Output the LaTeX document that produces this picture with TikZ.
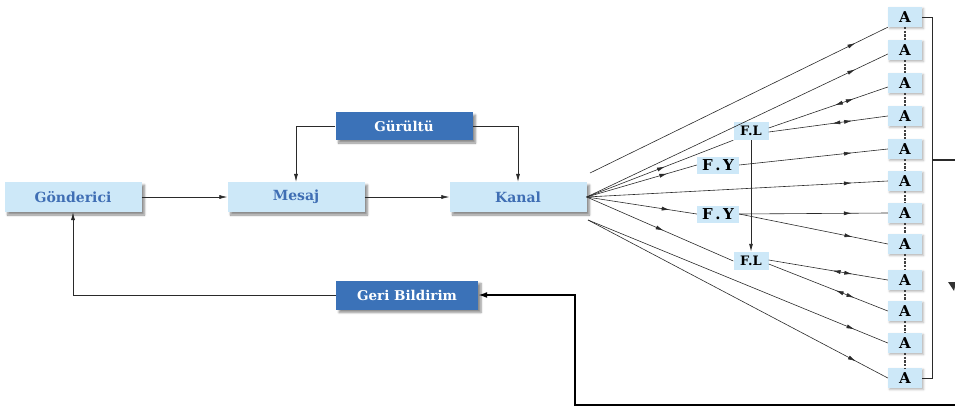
\documentclass[tikz,border=0pt]{standalone}
\usepackage{fontspec}
\setmainfont{DejaVu Serif}
\usetikzlibrary{arrows.meta,shadows.blur,decorations.markings,calc}

\definecolor{paleblue}{HTML}{CDE8F8}
\definecolor{inkblue}{HTML}{3F6EB4}
\definecolor{deepblue}{HTML}{3B72B8}
\definecolor{wiregray}{HTML}{2A2A2A}

\tikzset{
  tip/.tip={Latex[length=8pt,width=4pt]},
  bigtip/.tip={Latex[length=9pt,width=6pt]},
  softshadow/.style={blur shadow={shadow xshift=3pt,shadow yshift=-3pt,shadow blur steps=6,shadow opacity=45}},
  lightbox/.style={fill=paleblue,minimum width=137pt,minimum height=30pt,inner sep=0pt,
    text=inkblue,font=\bfseries\fontsize{14}{16}\selectfont,softshadow},
  darkbox/.style={fill=deepblue,inner sep=0pt,text=white,font=\bfseries\fontsize{13.5}{15}\selectfont,softshadow},
  abox/.style={fill=paleblue,minimum width=34pt,minimum height=20pt,inner sep=0pt,
    font=\bfseries\fontsize{15}{15}\selectfont,
    blur shadow={shadow xshift=1.5pt,shadow yshift=-1.5pt,shadow blur steps=4,shadow opacity=30}},
  flbox/.style={fill=paleblue,minimum width=35pt,minimum height=18pt,inner sep=0pt,
    font=\bfseries\fontsize{13}{13}\selectfont},
  fybox/.style={fill=paleblue,minimum width=42pt,minimum height=17pt,inner sep=0pt,
    font=\bfseries\fontsize{15}{15}\selectfont},
  wire/.style={draw=wiregray,line width=0.6pt},
  heavywire/.style={draw=black,line width=1.6pt},
  alink/.style={draw=black!75,line width=2pt,dash pattern=on 2.2pt off 1.4pt},
  toA/.style={wire,postaction={decorate,decoration={markings,
    mark=at position -36pt with {\arrow{tip}}}}},
  toF/.style={wire,postaction={decorate,decoration={markings,
    mark=at position 84pt with {\arrow{tip}}}}},
  twoway/.style={wire,postaction={decorate,decoration={markings,
    mark=at position -36pt with {\arrow{tip}},
    mark=at position -56pt with {\arrowreversed{tip}}}}},
}

\begin{document}
\begin{tikzpicture}[x=1pt,y=-1pt]
\useasboundingbox (0,0) rectangle (955,407);

% main chain
\node[lightbox] (gon) at (73,197) {Gönderici};
\node[lightbox] (mes) at (296,197) {Mesaj};
\node[lightbox] (kan) at (518,197) {Kanal};
\node[darkbox,minimum width=137pt,minimum height=28pt] (gur) at (404,126) {Gürültü};
\node[darkbox,minimum width=142pt,minimum height=29pt] (geri) at (407,295) {Geri Bildirim};

\draw[wire,-{tip}] (gon) -- (mes);
\draw[wire,-{tip}] (mes) -- (kan);
\draw[wire,-{tip}] (gur.west) -| (mes.north);
\draw[wire,-{tip}] (gur.east) -| (kan.north);
\draw[wire,-{tip}] (geri.west) -| (gon.south);

% receivers
\foreach \yy [count=\i] in {17,50,83,116,149,181,213,244,280,311,343,378}
  \node[abox] (a\i) at (905,\yy) {A};
\foreach \i [evaluate=\i as \j using int(\i+1)] in {1,...,11}
  \draw[alink] (a\i.south) -- (a\j.north);

% relay nodes
\node[flbox] (fl1) at (751,131) {F.L};
\node[fybox] (fy1) at (718,165) {F\,.\,Y};
\node[fybox] (fy2) at (718,214) {F\,.\,Y};
\node[flbox] (fl2) at (751,261) {F.L};
\draw[wire,line width=0.9pt,-{tip}] (fl1) -- (fl2);

% fan-out from the channel
\coordinate (k1) at (590,173);
\coordinate (k2) at (588,220);
\draw[toA] (k1) -- (a1.south west);
\draw[toA] (kan.east) -- ($(a2.west)+(0,4)$);
\draw[toF] (kan.east) -- (fl1.south west);
\draw[toF] (kan.east) -- (fy1.west);
\draw[toA] (kan.east) -- (a6.west);
\draw[toF] (kan.east) -- (fy2.west);
\draw[toF] (kan.east) -- (fl2.west);
\draw[toA] (k2) -- (a11.west);
\draw[toA] (k2) -- (a12.west);

% relay branches
\draw[twoway] ($(fl1.east)+(0,-3)$) -- ($(a3.west)+(0,4)$);
\draw[twoway] ($(fl1.east)+(0,1)$) -- (a4.west);
\draw[toA] (fy1.east) -- (a5.west);
\draw[toA] (fy2.east) -- (a7.west);
\draw[toA] (fy2.east) -- (a8.west);
\draw[twoway] ($(fl2.east)+(0,-1)$) -- (a9.west);
\draw[twoway] ($(fl2.east)+(0,3)$) -- (a10.west);

% collecting bracket and feedback path
\draw[wire] (a1.east) -- ($(a1.east)+(10,0)$) |- (a12.east);
\coordinate (brk) at (932,160);
\coordinate (out) at (955,160);
\draw[wire,line width=1.2pt] (brk) -- (out);
\fill[black!80] (948,282) -- (956,282) -- (954,291) -- cycle;

\coordinate (fbin) at (955,405);
\coordinate (fbcorner) at (575,295);
\draw[heavywire,-{bigtip}] (fbin) -| (fbcorner) -- (geri.east);
\end{tikzpicture}
\end{document}
